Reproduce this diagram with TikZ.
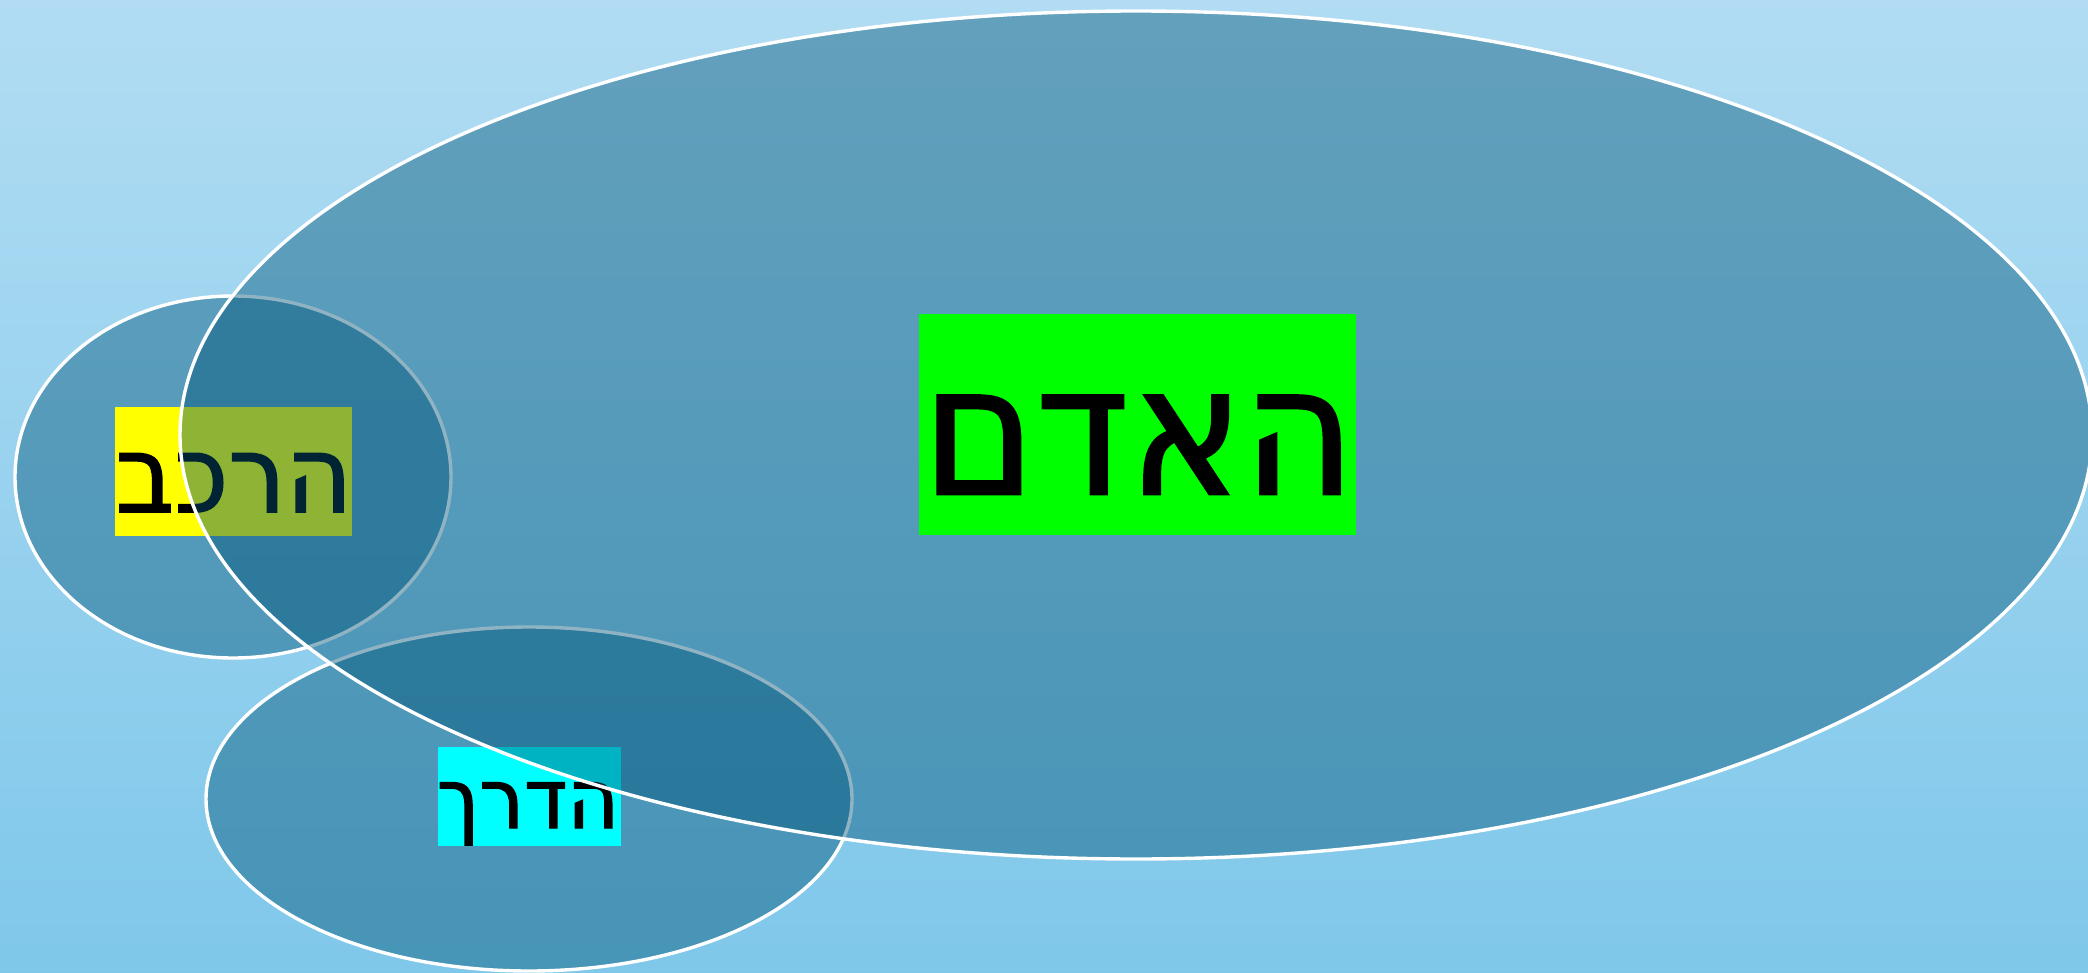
\documentclass[tikz,border=0pt]{standalone}
\usepackage{fontspec}
\newfontfamily\hebfont[Script=Hebrew,FakeBold=1.5,FakeStretch=0.95]{DejaVu Sans}
\TeXXeTstate=1
\definecolor{bgtop}{RGB}{202,231,247}
\definecolor{bgmid}{RGB}{114,194,232}
\definecolor{bgbot}{RGB}{134,202,235}
\definecolor{ellfill}{RGB}{0,84,120}
\definecolor{boxyellow}{RGB}{255,255,0}
\definecolor{boxcyan}{RGB}{0,255,255}
\definecolor{boxgreen}{RGB}{0,255,0}
\pgfdeclareverticalshading{bgshade}{100bp}{color(0bp)=(bgbot); color(12bp)=(bgmid); color(100bp)=(bgtop)}
\tikzset{
  ell/.style={fill=ellfill, fill opacity=0.44, draw=white, draw opacity=1, line width=1.7pt},
  boxnode/.style={inner sep=0pt, outer sep=0pt, draw=none},
  heb/.style={inner sep=0pt, outer sep=0pt, anchor=base, text=black}
}
\begin{document}
\begin{tikzpicture}[x=0.5pt, y=-0.5pt]
\useasboundingbox (0,0) rectangle (2088,973);
\shade[shading=bgshade] (0,0) rectangle (2088,973);
% left ellipse and label
\draw[ell] (233,477) ellipse [x radius=218, y radius=181];
\node[boxnode, fill=boxyellow, minimum width=118.5pt, minimum height=64.5pt] (carbox) at (233.5,471.5) {};
\node[heb, font=\hebfont\fontsize{53.6}{53.6}\selectfont] (car) at (234,512) {\beginR הרכב\endR};
% bottom ellipse and label
\draw[ell] (529,799) ellipse [x radius=323, y radius=172];
\node[boxnode, fill=boxcyan, minimum width=91.5pt, minimum height=49.5pt] (roadbox) at (529.5,796.5) {};
\node[heb, font=\hebfont\fontsize{41.7}{41.7}\selectfont] (road) at (528,828) {\beginR הדרך\endR};
% big ellipse
\draw[ell] (1136,435) ellipse [x radius=956, y radius=424];
\node[boxnode, fill=boxgreen, minimum width=218.5pt, minimum height=110.5pt] (manbox) at (1137.5,424.5) {};
\node[heb, font=\hebfont\fontsize{90}{90}\selectfont] (man) at (1138.5,494) {\beginR האדם\endR};
\end{tikzpicture}
\end{document}
